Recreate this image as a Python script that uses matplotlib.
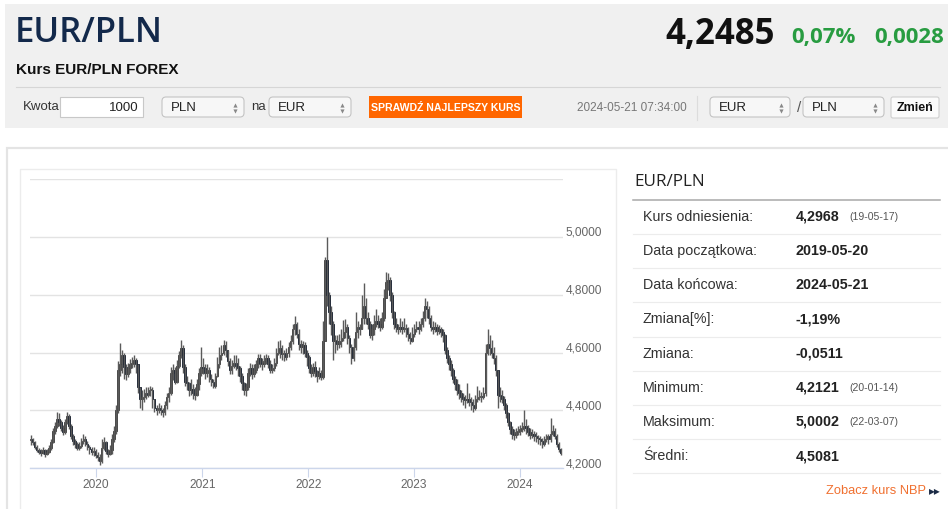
import datetime as dt

import matplotlib
matplotlib.use('Agg')
import matplotlib.pyplot as plt
import matplotlib.dates as mdates
import matplotlib.transforms as mtrans
from matplotlib.patches import Rectangle, FancyBboxPatch

plt.rcParams['font.family'] = ['Liberation Sans', 'DejaVu Sans']

# --- dane: tygodniowe świece EUR/PLN od 2019-05-20 ---
start_date = dt.date(2019, 5, 20)
ref_open = 4.2968

close = [
    4.300, 4.290, 4.275, 4.262, 4.258, 4.252, 4.262, 4.250, 4.258, 4.270,
    4.290, 4.330, 4.345, 4.372, 4.360, 4.340, 4.325, 4.360, 4.380, 4.345,
    4.310, 4.295, 4.285, 4.270, 4.278, 4.295, 4.300, 4.285, 4.272, 4.265,
    4.255, 4.260, 4.245, 4.240, 4.225, 4.270, 4.290, 4.260, 4.248, 4.262,
    4.300, 4.330, 4.400, 4.540, 4.560, 4.590, 4.550, 4.525, 4.545, 4.560,
    4.565, 4.575, 4.560, 4.480, 4.440, 4.445, 4.460, 4.455, 4.470, 4.470,
    4.440, 4.410, 4.400, 4.410, 4.400, 4.395, 4.420, 4.445, 4.460, 4.530,
    4.540, 4.500, 4.555, 4.590, 4.615, 4.550, 4.500, 4.495, 4.470, 4.475,
    4.460, 4.455, 4.490, 4.530, 4.550, 4.545, 4.530, 4.540, 4.510, 4.500,
    4.485, 4.520, 4.560, 4.590, 4.600, 4.625, 4.610, 4.570, 4.540, 4.555,
    4.565, 4.555, 4.545, 4.520, 4.495, 4.470, 4.480, 4.530, 4.545, 4.525,
    4.540, 4.560, 4.580, 4.565, 4.560, 4.570, 4.580, 4.560, 4.540, 4.545,
    4.565, 4.600, 4.615, 4.595, 4.600, 4.585, 4.600, 4.620, 4.640, 4.680,
    4.700, 4.665, 4.630, 4.620, 4.625, 4.600, 4.585, 4.545, 4.530, 4.550,
    4.535, 4.520, 4.530, 4.515, 4.640, 4.920, 4.800, 4.740, 4.700, 4.640,
    4.640, 4.630, 4.640, 4.650, 4.670, 4.690, 4.650, 4.620, 4.580, 4.620,
    4.670, 4.690, 4.680, 4.720, 4.760, 4.720, 4.700, 4.660, 4.680, 4.700,
    4.710, 4.700, 4.690, 4.720, 4.790, 4.845, 4.850, 4.800, 4.740, 4.700,
    4.690, 4.680, 4.690, 4.680, 4.685, 4.665, 4.650, 4.640, 4.665, 4.680,
    4.690, 4.680, 4.700, 4.720, 4.760, 4.750, 4.720, 4.690, 4.680, 4.690,
    4.675, 4.680, 4.670, 4.660, 4.610, 4.580, 4.560, 4.540, 4.510, 4.490,
    4.470, 4.460, 4.445, 4.440, 4.435, 4.440, 4.430, 4.420, 4.410, 4.440,
    4.445, 4.450, 4.445, 4.460, 4.600, 4.630, 4.615, 4.600, 4.580, 4.540,
    4.455, 4.450, 4.440, 4.420, 4.390, 4.360, 4.335, 4.320, 4.315, 4.325,
    4.330, 4.335, 4.340, 4.345, 4.340, 4.325, 4.315, 4.320, 4.310, 4.305,
    4.300, 4.295, 4.285, 4.300, 4.310, 4.300, 4.320, 4.330, 4.310, 4.285,
    4.265, 4.252,
]

high = [
    4.315, 4.305, 4.295, 4.280, 4.270, 4.266, 4.272, 4.266, 4.268, 4.282,
    4.302, 4.340, 4.360, 4.394, 4.392, 4.368, 4.350, 4.372, 4.396, 4.388,
    4.352, 4.318, 4.300, 4.292, 4.290, 4.305, 4.318, 4.310, 4.294, 4.282,
    4.275, 4.272, 4.266, 4.255, 4.248, 4.300, 4.308, 4.295, 4.268, 4.280,
    4.318, 4.345, 4.420, 4.570, 4.634, 4.610, 4.600, 4.560, 4.565, 4.578,
    4.585, 4.590, 4.580, 4.560, 4.480, 4.470, 4.475, 4.480, 4.480, 4.485,
    4.480, 4.440, 4.420, 4.425, 4.420, 4.410, 4.432, 4.460, 4.480, 4.550,
    4.560, 4.550, 4.575, 4.605, 4.645, 4.625, 4.560, 4.520, 4.500, 4.510,
    4.490, 4.480, 4.510, 4.545, 4.620, 4.580, 4.560, 4.560, 4.550, 4.525,
    4.510, 4.530, 4.585, 4.620, 4.625, 4.645, 4.640, 4.610, 4.580, 4.575,
    4.590, 4.590, 4.580, 4.555, 4.530, 4.500, 4.495, 4.545, 4.565, 4.560,
    4.560, 4.575, 4.595, 4.595, 4.580, 4.590, 4.595, 4.590, 4.575, 4.560,
    4.580, 4.615, 4.640, 4.645, 4.625, 4.610, 4.615, 4.635, 4.660, 4.700,
    4.725, 4.705, 4.680, 4.645, 4.640, 4.635, 4.610, 4.590, 4.560, 4.565,
    4.570, 4.540, 4.550, 4.540, 4.710, 4.930, 5.000, 4.810, 4.760, 4.710,
    4.660, 4.660, 4.665, 4.680, 4.714, 4.715, 4.700, 4.660, 4.630, 4.650,
    4.740, 4.710, 4.700, 4.800, 4.840, 4.790, 4.740, 4.710, 4.700, 4.730,
    4.750, 4.730, 4.720, 4.740, 4.820, 4.880, 4.875, 4.860, 4.810, 4.745,
    4.720, 4.700, 4.720, 4.710, 4.720, 4.700, 4.690, 4.670, 4.690, 4.700,
    4.710, 4.710, 4.720, 4.745, 4.790, 4.780, 4.760, 4.730, 4.710, 4.705,
    4.700, 4.695, 4.690, 4.680, 4.665, 4.620, 4.590, 4.575, 4.545, 4.520,
    4.510, 4.490, 4.470, 4.460, 4.455, 4.495, 4.460, 4.445, 4.440, 4.455,
    4.483, 4.470, 4.465, 4.480, 4.630, 4.680, 4.660, 4.645, 4.620, 4.590,
    4.540, 4.480, 4.470, 4.450, 4.425, 4.395, 4.365, 4.345, 4.335, 4.340,
    4.345, 4.350, 4.360, 4.400, 4.370, 4.350, 4.340, 4.335, 4.330, 4.325,
    4.315, 4.310, 4.305, 4.310, 4.320, 4.320, 4.373, 4.350, 4.340, 4.320,
    4.290, 4.270,
]

low = [
    4.282, 4.282, 4.268, 4.255, 4.248, 4.242, 4.248, 4.240, 4.246, 4.252,
    4.262, 4.286, 4.318, 4.338, 4.345, 4.330, 4.315, 4.320, 4.352, 4.335,
    4.300, 4.280, 4.270, 4.262, 4.262, 4.270, 4.285, 4.278, 4.262, 4.250,
    4.245, 4.242, 4.236, 4.225, 4.212, 4.220, 4.262, 4.250, 4.238, 4.245,
    4.250, 4.290, 4.320, 4.390, 4.520, 4.530, 4.510, 4.505, 4.515, 4.530,
    4.545, 4.550, 4.530, 4.460, 4.410, 4.400, 4.430, 4.440, 4.445, 4.450,
    4.410, 4.395, 4.385, 4.390, 4.385, 4.378, 4.385, 4.405, 4.430, 4.455,
    4.505, 4.490, 4.495, 4.545, 4.580, 4.530, 4.485, 4.470, 4.450, 4.455,
    4.440, 4.437, 4.450, 4.470, 4.520, 4.525, 4.510, 4.515, 4.500, 4.485,
    4.478, 4.478, 4.515, 4.545, 4.575, 4.590, 4.585, 4.555, 4.525, 4.525,
    4.545, 4.540, 4.520, 4.500, 4.470, 4.455, 4.450, 4.470, 4.520, 4.510,
    4.515, 4.530, 4.545, 4.550, 4.540, 4.550, 4.560, 4.545, 4.530, 4.530,
    4.535, 4.555, 4.590, 4.580, 4.575, 4.570, 4.575, 4.585, 4.610, 4.630,
    4.660, 4.650, 4.610, 4.600, 4.595, 4.585, 4.555, 4.530, 4.515, 4.520,
    4.515, 4.500, 4.510, 4.505, 4.510, 4.640, 4.760, 4.700, 4.660, 4.575,
    4.600, 4.610, 4.615, 4.620, 4.640, 4.650, 4.630, 4.600, 4.560, 4.570,
    4.610, 4.650, 4.660, 4.680, 4.700, 4.700, 4.680, 4.650, 4.645, 4.660,
    4.690, 4.685, 4.675, 4.680, 4.710, 4.790, 4.815, 4.780, 4.720, 4.680,
    4.670, 4.665, 4.670, 4.665, 4.670, 4.655, 4.640, 4.630, 4.635, 4.655,
    4.670, 4.665, 4.675, 4.690, 4.710, 4.720, 4.700, 4.675, 4.665, 4.670,
    4.660, 4.665, 4.655, 4.635, 4.595, 4.565, 4.540, 4.520, 4.495, 4.470,
    4.455, 4.440, 4.430, 4.420, 4.410, 4.425, 4.415, 4.400, 4.396, 4.400,
    4.430, 4.435, 4.430, 4.440, 4.450, 4.590, 4.590, 4.580, 4.560, 4.520,
    4.410, 4.430, 4.425, 4.400, 4.375, 4.345, 4.320, 4.300, 4.298, 4.305,
    4.315, 4.315, 4.325, 4.330, 4.320, 4.310, 4.300, 4.305, 4.295, 4.290,
    4.285, 4.280, 4.270, 4.278, 4.290, 4.285, 4.290, 4.310, 4.300, 4.275,
    4.255, 4.245,
]

y_ticks = [4.2, 4.4, 4.6, 4.8, 5.0, 5.2]
y_labels = ['4,2000', '4,4000', '4,6000', '4,8000', '5,0000', '']

stat_labels = ['Kurs odniesienia:', 'Data początkowa:', 'Data końcowa:', 'Zmiana[%]:',
               'Zmiana:', 'Minimum:', 'Maksimum:', 'Średni:']
stat_values = ['4,2968', '2019-05-20', '2024-05-21', '-1,19%', '-0,0511',
               '4,2121', '5,0002', '4,5081']
stat_dates = ['(19-05-17)', '', '', '', '', '(20-01-14)', '(22-03-07)', '']

W, H = 948, 509
NAVY = '#13294b'
GREEN = '#289c41'
ORANGE = '#ff6600'
OSANS = ['Open Sans', 'DejaVu Sans']

fig = plt.figure(figsize=(W / 100, H / 100), dpi=100)
fig.patch.set_facecolor('white')

# tło strony w pikselach (y w dół)
bg = fig.add_axes([0, 0, 1, 1])
bg.set_xlim(0, W)
bg.set_ylim(H, 0)
bg.axis('off')


def rbox(x0, y0, x1, y1, fc, ec, r=4, lw=0.8):
    bg.add_patch(FancyBboxPatch((x0, y0), x1 - x0, y1 - y0,
                                boxstyle='round,pad=0,rounding_size=%s' % r,
                                fc=fc, ec=ec, lw=lw))


def select(x0, x1, label):
    rbox(x0, 97, x1, 117, '#f7f7f7', '#c4c4c4', r=4)
    bg.text(x0 + 9, 107.5, label, fontsize=9.5, color='#222', va='center')
    bg.plot([x1 - 9], [104.5], marker='^', ms=3, color='#888', mec='none')
    bg.plot([x1 - 9], [110.5], marker='v', ms=3, color='#888', mec='none')


# nagłówek
bg.add_patch(Rectangle((5, 4), W - 5, 124, fc='#f0f0f0', ec='none'))
bg.text(15, 33, 'EUR/PLN', fontsize=25, color=NAVY, va='center',
        family=OSANS, fontweight='semibold')
bg.text(16, 70, 'Kurs EUR/PLN FOREX', fontsize=11, color='#111', va='center',
        fontweight='bold')
bg.text(775, 35, '4,2485', fontsize=25, color='#111', va='center', ha='right',
        family=OSANS, fontweight='bold')
bg.text(791, 37, '0,07%', fontsize=16, color=GREEN, va='center',
        family=OSANS, fontweight='bold')
bg.text(944, 37, '0,0028', fontsize=16, color=GREEN, va='center', ha='right',
        family=OSANS, fontweight='bold')
bg.plot([16, 940], [87, 87], color='#d6d6d6', lw=0.8)

# formularz
bg.text(23, 107, 'Kwota', fontsize=9.5, color='#333', va='center')
bg.add_patch(Rectangle((60, 97), 83, 20, fc='white', ec='#c8c8c8', lw=0.8))
bg.text(139, 107.5, '1000', fontsize=9.5, color='#222', va='center', ha='right')
select(162, 244, 'PLN')
bg.text(251, 107, 'na', fontsize=9.5, color='#333', va='center')
select(269, 351, 'EUR')
bg.add_patch(Rectangle((369, 96), 153, 22, fc=ORANGE, ec='none'))
bg.text(445.5, 107.5, 'SPRAWDŹ NAJLEPSZY KURS', fontsize=7.6, color='white',
        va='center', ha='center', fontweight='bold',
        family=['Liberation Sans Narrow', 'Liberation Sans', 'DejaVu Sans'])
bg.text(687, 107.5, '2024-05-21 07:34:00', fontsize=8.5, color='#777',
        va='center', ha='right')
bg.plot([697, 697], [96, 120], color='#dcdcdc', lw=0.8)
select(710, 790, 'EUR')
bg.text(797, 108, '/', fontsize=11, color='#555', va='center')
select(803, 884, 'PLN')
rbox(891, 97, 939, 118, '#fbfbfb', '#cfcfcf', r=2)
bg.text(915, 107.5, 'Zmień', fontsize=9, color='#111', va='center', ha='center',
        fontweight='bold')

# panel dolny
bg.add_patch(Rectangle((7, 148), W, 380, fc='white', ec='#e4e4e4', lw=1.6))
bg.add_patch(Rectangle((20, 169), 596, 360, fc='white', ec='#ececec', lw=1.0))

# tabela po prawej
bg.text(634, 182, 'EUR/PLN', fontsize=12.3, color='#222', va='center', family=OSANS)
bg.plot([633, 940], [199.5, 199.5], color='#a8a8a8', lw=1.1)
for k, (lab, val, dat) in enumerate(zip(stat_labels, stat_values, stat_dates)):
    yc = 216.7 + k * 34.2
    bg.text(643, yc, lab, fontsize=10.3, color='#333', va='center')
    bg.text(796, yc, val, fontsize=10.3, color='#222', va='center', fontweight='bold')
    if dat:
        bg.text(849, yc + 0.5, dat, fontsize=7.6, color='#555', va='center')
    bg.plot([633, 940], [yc + 17.3, yc + 17.3], color='#ececec', lw=0.8)
bg.text(926, 491, 'Zobacz kurs NBP', fontsize=9.3, color='#f07030', va='center',
        ha='right')
bg.text(941, 491, '▸▸', fontsize=8.5, color='#1c2b46', va='center', ha='right',
        family=['DejaVu Sans'])

# wykres świecowy
x_left, x_right = 30, 563
y_top, y_bot = 179, 468.3
ax = fig.add_axes([x_left / W, (H - y_bot) / H, (x_right - x_left) / W,
                   (y_bot - y_top) / H])
ax.patch.set_alpha(0)

dates = [start_date + dt.timedelta(days=7 * i) for i in range(len(close))]
xs = mdates.date2num(dates)
opens = [ref_open] + close[:-1]

wick_c, up_face, up_edge, dn_c = '#5a5a5a', '#8a8a8a', '#333333', '#0b1526'
ax.vlines(xs, low, high, color=wick_c, lw=1.0)
for x, o, c in zip(xs, opens, close):
    bottom = min(o, c)
    height = max(abs(c - o), 0.003)
    if c >= o:
        ax.bar(x, height, bottom=bottom, width=5.5, color=up_face, edgecolor=up_edge,
               linewidth=0.6)
    else:
        ax.bar(x, height, bottom=bottom, width=5.5, color=dn_c, edgecolor=dn_c,
               linewidth=0.6)

ax.set_xlim(mdates.date2num(dt.date(2019, 5, 18)), mdates.date2num(dt.date(2024, 5, 28)))
ax.set_ylim(4.2, 5.2)
ax.set_yticks(y_ticks)
ax.set_yticklabels(y_labels)
ax.yaxis.tick_right()
ax.grid(axis='y', color='#e3e3e3', lw=1.0)
ax.set_axisbelow(True)
for s in ['top', 'left', 'right']:
    ax.spines[s].set_visible(False)
ax.spines['bottom'].set_color('#ccd6eb')
ax.spines['bottom'].set_linewidth(1.0)
ax.tick_params(axis='y', length=0, pad=2, labelsize=8.6, labelcolor='#666')
ax.tick_params(axis='x', length=6.5, width=0.8, color='#ccd6eb', pad=1.5,
               labelsize=8.6, labelcolor='#666')
ax.xaxis.set_major_locator(mdates.YearLocator())
ax.xaxis.set_major_formatter(mdates.DateFormatter('%Y'))

off = mtrans.ScaledTranslation(0, 0.055, fig.dpi_scale_trans)
for t in ax.get_yticklabels():
    t.set_transform(t.get_transform() + off)

fig.savefig('out.png', dpi=100)
